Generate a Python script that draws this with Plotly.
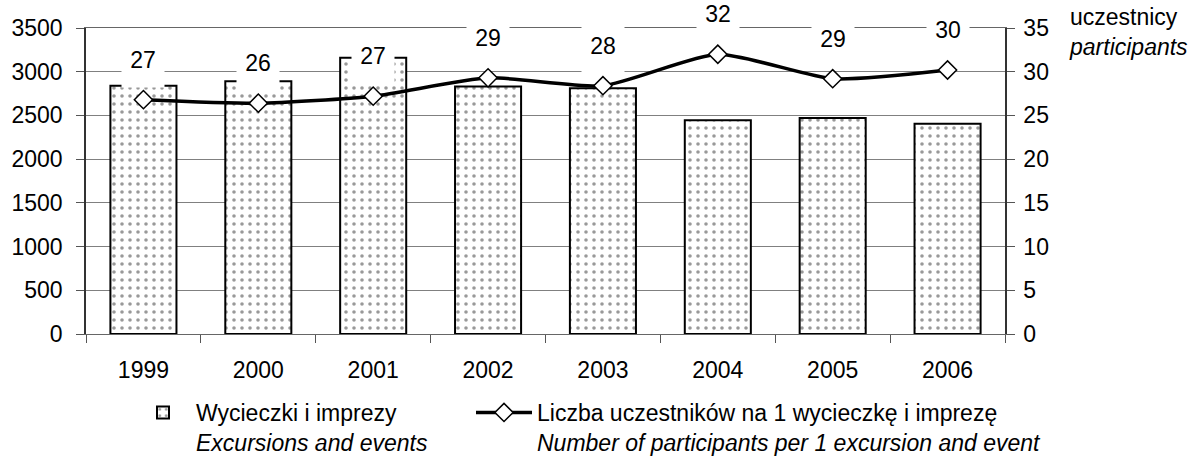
import plotly.graph_objects as go

years = ["1999", "2000", "2001", "2002", "2003", "2004", "2005", "2006"]
excursions = [2840, 2890, 3160, 2830, 2810, 2445, 2470, 2405]
participants = [26.8, 26.4, 27.2, 29.3, 28.4, 32.0, 29.2, 30.2]

bar_name = "Wycieczki i imprezy<br><i>Excursions and events</i>"
line_name = "Liczba uczestników na 1 wycieczkę i imprezę<br><i>Number of participants per 1 excursion and event</i>"
right_title = "uczestnicy<br><i>participants</i>"

FONT = "Liberation Sans, Arial, sans-serif"
FS = 23
W, H = 1202, 461

fig = go.Figure()
fig.add_trace(go.Bar(
    x=years, y=excursions, name=bar_name, legend="legend",
    marker=dict(color="white",
                line=dict(color="black", width=2),
                pattern=dict(shape=".", fgcolor="#333333", bgcolor="white",
                             size=8, solidity=0.16)),
))
fig.add_trace(go.Scatter(
    x=years, y=participants, name=line_name, yaxis="y2", legend="legend2",
    mode="lines+markers",
    line=dict(color="black", width=3.5, shape="spline", smoothing=0.6),
    marker=dict(symbol="diamond", size=14, color="white",
                line=dict(color="black", width=1.5)),
))

# data labels (category index positions on the x axis)
for i, v in enumerate(participants):
    fig.add_annotation(x=i, y=v, xref="x", yref="y2", yshift=40,
                       text=f"{v:.0f}", showarrow=False,
                       bgcolor="white", width=40, height=52,
                       font=dict(family=FONT, size=FS, color="black"))

fig.add_annotation(xref="paper", yref="paper", x=1.0675, y=1.0, xanchor="left",
                   yanchor="middle", yshift=-4, align="left", text=right_title,
                   showarrow=False, font=dict(family=FONT, size=FS, color="black"))

legend_common = dict(orientation="h", xref="container", yref="container",
                     y=1 - 391 / H, xanchor="left", yanchor="top",
                     valign="top", itemwidth=56,
                     font=dict(family=FONT, size=FS, color="black"),
                     bgcolor="rgba(0,0,0,0)")

fig.update_layout(
    width=W, height=H,
    margin=dict(l=86, r=W - 1005, t=28, b=H - 334, autoexpand=False),
    paper_bgcolor="white", plot_bgcolor="white",
    font=dict(family=FONT, size=FS, color="black"),
    bargap=0.425,
    showlegend=True,
    legend=dict(x=130 / W, **legend_common),
    legend2=dict(x=471 / W, **legend_common),
    xaxis=dict(type="category", tickson="boundaries", ticks="outside",
               ticklen=8, tickcolor="#555555", showline=True, mirror=True,
               linecolor="#666666", linewidth=1.2, showgrid=False,
               range=[-0.5, len(years) - 0.5], ticklabelstandoff=15,
               automargin=False),
    yaxis=dict(range=[0, 3500], dtick=500, ticks="outside", ticklen=8,
               tickcolor="#555555", showline=True, linecolor="#333333",
               linewidth=1.5, showgrid=True, gridcolor="#808080",
               gridwidth=1, zeroline=False, ticklabelstandoff=9,
               automargin=False),
    yaxis2=dict(range=[0, 35], dtick=5, overlaying="y", side="right",
                ticks="outside", ticklen=8, tickcolor="#555555",
                showline=True, linecolor="#333333", linewidth=1.5,
                showgrid=False, zeroline=False, automargin=False,
                ticklabelstandoff=4),
)

fig.write_html("out.html",
               config={"displayModeBar": False},
               post_script="document.body.style.margin='0';document.body.style.overflow='hidden';")
